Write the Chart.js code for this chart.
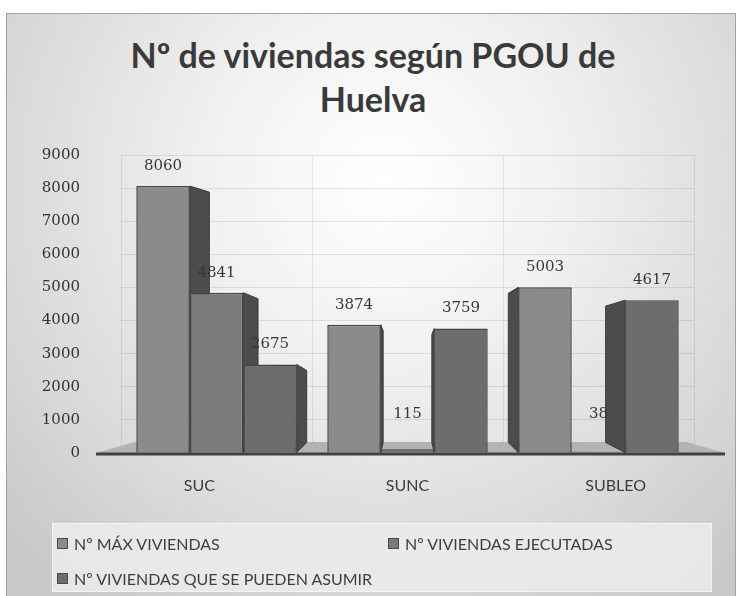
<!DOCTYPE html>
<html><head><meta charset="utf-8">
<script src="https://cdn.jsdelivr.net/npm/chart.js@4"></script>
<style>
html,body{margin:0;padding:0;background:#fff;width:743px;height:596px;overflow:hidden}
#frame{position:absolute;left:6px;top:13px;width:730px;height:600px;border:1px solid #a3a3a3;box-sizing:border-box;
 background:radial-gradient(ellipse 70% 85% at 52% 28%, #ffffff 0%, #f1f1f1 35%, #dcdcdc 70%, #c9c9c9 100%)}
#title{position:absolute;left:0;top:33px;width:746px;text-align:center;font:700 34px Lato;color:#3a3a3a;line-height:44px}
#c{position:absolute;left:0;top:0}
#legend{position:absolute;left:52px;top:523px;width:660px;height:69px;background:rgba(236,236,236,0.85);border:1px solid rgba(255,255,255,0.5);box-sizing:border-box}
.item{position:absolute;font:16px Lato;color:#404040;display:flex;align-items:center;white-space:nowrap;height:20px}
.sw{width:9px;height:9px;border:1px solid #4a4a4a;margin-right:6px}
</style></head>
<body>
<div id="frame"></div>
<div id="title">Nº de viviendas según PGOU de<br>Huelva</div>
<canvas id="c" width="743" height="596"></canvas>
<div id="legend"></div>
<script>
// ---- data ----
const categories = ['SUC', 'SUNC', 'SUBLEO'];
const seriesNames = ['Nº MÁX VIVIENDAS', 'Nº VIVIENDAS EJECUTADAS', 'Nº VIVIENDAS QUE SE PUEDEN ASUMIR'];
const maxViviendas = [8060, 3874, 5003];
const viviendasEjecutadas = [4841, 115, 38];
const viviendasAsumibles = [2675, 3759, 4617];
const yMin = 0, yMax = 9000, yStep = 1000;

const fills = ['#8b8b8b', '#7a7a7a', '#6d6d6d'];
const seriesValues = [maxViviendas, viviendasEjecutadas, viviendasAsumibles];

const depthPlugin = {
  id: 'depth',
  beforeDatasetsDraw(chart) {
    const {ctx, chartArea: a} = chart;
    const y0 = chart.scales.y.getPixelForValue(0);
    const cx = (a.left + a.right) / 2;
    ctx.save();
    // floor
    ctx.fillStyle = '#b3b3b3';
    ctx.beginPath();
    ctx.moveTo(a.left - 25, y0); ctx.lineTo(a.right + 31, y0);
    ctx.lineTo(a.right - 8, y0 - 11); ctx.lineTo(a.left + 14, y0 - 11);
    ctx.closePath(); ctx.fill();
    // side faces (perspective toward centre)
    chart.data.datasets.forEach((ds, di) => {
      chart.getDatasetMeta(di).data.forEach((bar) => {
        const p = bar.getProps(['x', 'y', 'base', 'width'], true);
        if (p.base - p.y < 12) return;
        const right = p.x + p.width / 2, left = p.x - p.width / 2;
        const edge = (p.x < cx) ? right : left;
        const dx = (cx - edge) * 0.09;
        if (Math.abs(dx) < 1.5) return;
        const yb = Math.max(p.base - 10, p.y + 6);
        ctx.fillStyle = '#4c4c4c';
        ctx.strokeStyle = '#3a3a3a';
        ctx.lineWidth = 1;
        ctx.beginPath();
        ctx.moveTo(edge, p.y); ctx.lineTo(edge + dx, p.y + 6);
        ctx.lineTo(edge + dx, yb); ctx.lineTo(edge, p.base);
        ctx.closePath(); ctx.fill(); ctx.stroke();
      });
    });
    ctx.restore();
  },
  afterDatasetsDraw(chart) {
    const {ctx, chartArea: a} = chart;
    const y0 = chart.scales.y.getPixelForValue(0);
    const cx = (a.left + a.right) / 2;
    ctx.save();
    // axis line
    ctx.strokeStyle = '#414141'; ctx.lineWidth = 3;
    ctx.beginPath(); ctx.moveTo(a.left - 25, y0 + 1); ctx.lineTo(a.right + 31, y0 + 1); ctx.stroke();
    // value labels
    ctx.font = '15px "DejaVu Serif"'; ctx.fillStyle = '#383838';
    ctx.textAlign = 'center'; ctx.textBaseline = 'middle';
    chart.data.datasets.forEach((ds, di) => {
      chart.getDatasetMeta(di).data.forEach((bar, i) => {
        const p = bar.getProps(['x', 'y', 'base'], true);
        const ly = Math.min(p.y - 20, p.base - 38);
        ctx.fillText(String(ds.data[i]), p.x, ly);
      });
    });
    // category labels (spread by perspective)
    const xs = chart.scales.x;
    ctx.font = '16px Lato'; ctx.fillStyle = '#3c3c3c';
    categories.forEach((c, i) => {
      const px = xs.getPixelForTick(i);
      ctx.fillText(c, px + (px - cx) * 0.09, y0 + 33);
    });
    ctx.restore();
  }
};

new Chart(document.getElementById('c'), {
  type: 'bar',
  data: {
    labels: categories,
    datasets: seriesNames.map((n, i) => ({
      label: n, data: seriesValues[i],
      backgroundColor: fills[i], borderColor: '#444444', borderWidth: 1.5,
      categoryPercentage: 0.84, barPercentage: 1.0
    }))
  },
  options: {
    responsive: false, animation: false,
    layout: {padding: {left: 0, top: 155, right: 49, bottom: 0}},
    plugins: {legend: {display: false}, title: {display: false}, tooltip: {enabled: false}},
    scales: {
      x: {
        grid: {offset: true, color: 'rgba(0,0,0,0.08)', drawTicks: false},
        border: {display: false},
        ticks: {display: false},
        afterFit: s => { s.height = 143; }
      },
      y: {
        min: yMin, max: yMax,
        ticks: {stepSize: yStep, padding: 41, color: '#333333', font: {family: 'DejaVu Serif', size: 15},
                callback: v => String(v)},
        grid: {color: 'rgba(0,0,0,0.09)', drawTicks: false},
        border: {display: false},
        afterFit: s => { s.width = 121; }
      }
    }
  },
  plugins: [depthPlugin]
});

// legend (HTML) from series names
const legend = document.getElementById('legend');
const pos = [[4, 9], [335, 9], [4, 44]];
seriesNames.forEach((n, i) => {
  const d = document.createElement('div');
  d.className = 'item';
  d.style.left = pos[i][0] + 'px'; d.style.top = pos[i][1] + 'px';
  d.innerHTML = '<span class="sw" style="background:' + fills[i] + '"></span>';
  d.appendChild(document.createTextNode(n));
  legend.appendChild(d);
});
</script>
</body></html>
